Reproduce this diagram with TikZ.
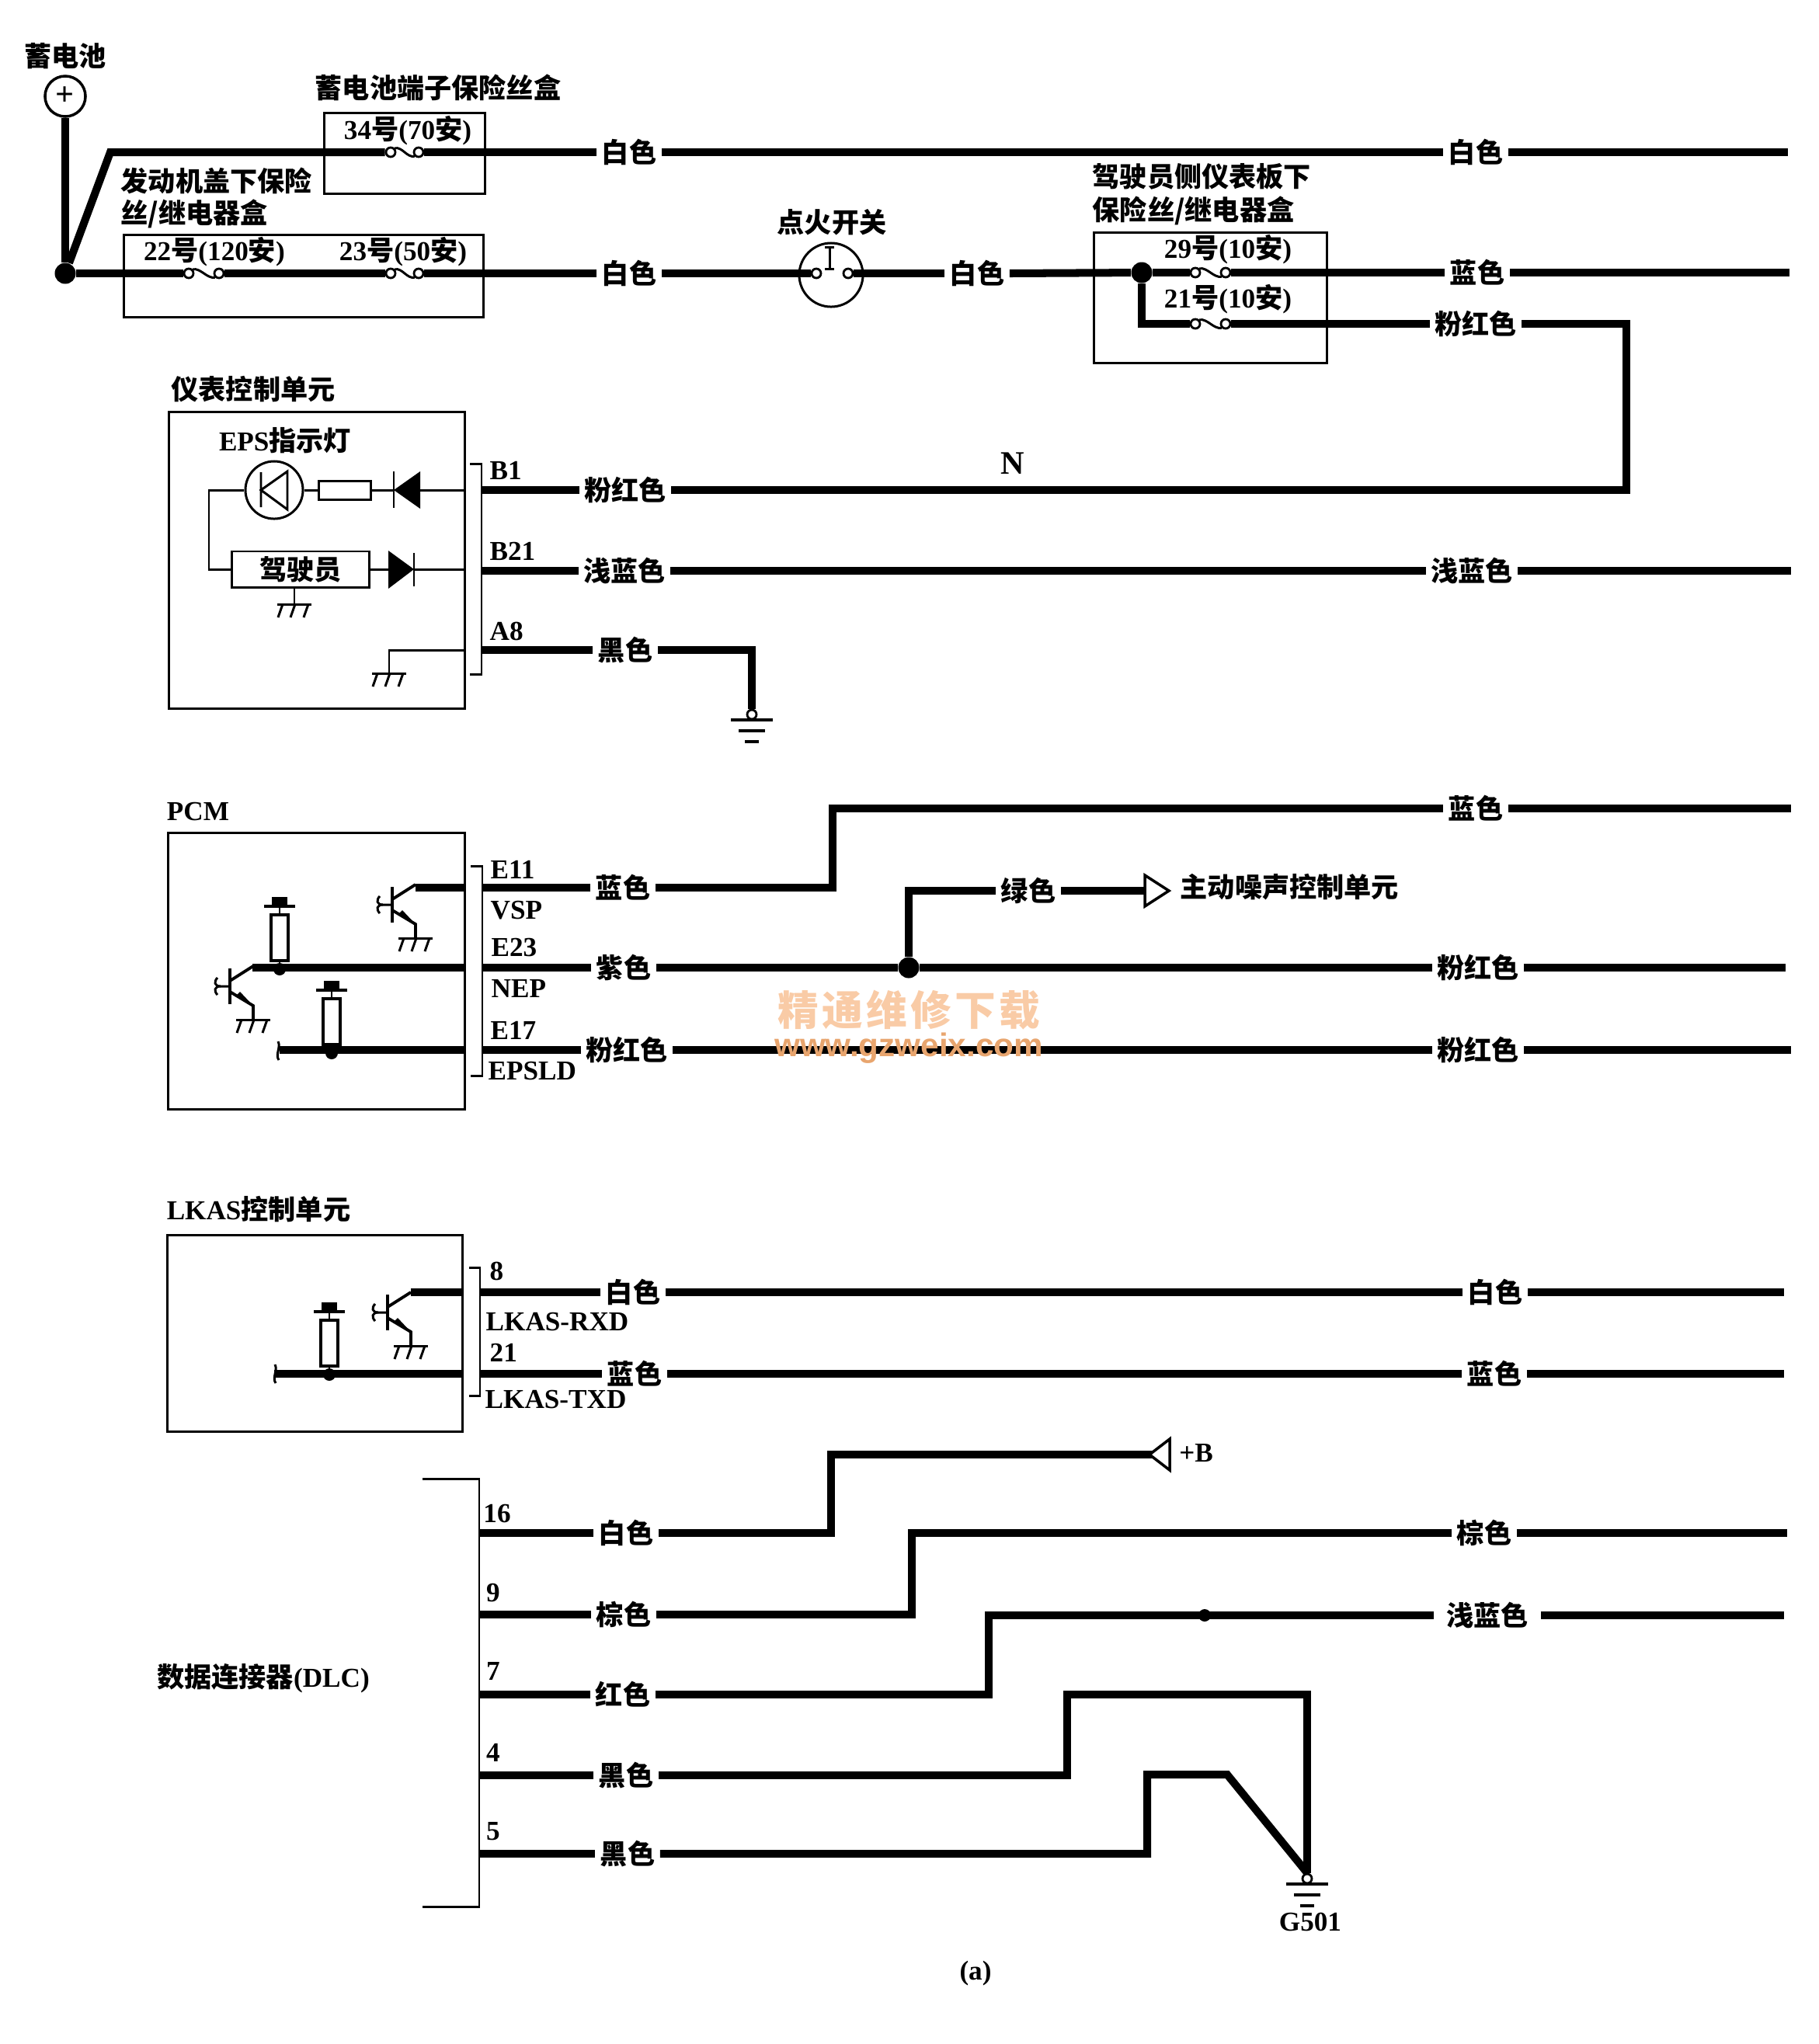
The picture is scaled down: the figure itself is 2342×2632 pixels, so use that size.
\documentclass[tikz,border=0pt]{standalone}
\usepackage{fontspec}
\setmainfont{Liberation Serif}
\newfontfamily\cjk{Noto Sans CJK SC}
\newfontfamily\wmfont{Liberation Sans}
\usetikzlibrary{arrows.meta,calc,positioning}
\definecolor{wmlight}{HTML}{F9CBA6}
\definecolor{wmdark}{HTML}{E8A56E}

\newcommand{\hz}[1]{{\cjk\bfseries #1}}
% fuse : name, left x, right x, y
\newcommand{\fusesym}[4]{
	\node[term] (#1-l) at (#2,#4) {};
	\node[term] (#1-r) at (#3,#4) {};
	\draw[thinw] (#1-l.north east) .. controls +(10,-2) and +(-10,2) .. (#1-r.south west);
}
% three slanted strokes, x y of the stem foot
\newcommand{\chassisgnd}[2]{
	\draw[thinw] (#1-22,#2) -- (#1+22,#2);
	\foreach \sx in {-15,1,18} {
		\draw[thinw] (#1+\sx,#2) -- (#1+\sx-6,#2+17);
	}
}
% earth symbol : name, x, y
\newcommand{\earthgnd}[3]{
	\node[term] (#1) at (#2,#3) {};
	\draw[gndbar] (#2-27,#3+7) -- (#2+27,#3+7);
	\draw[gndbar] (#2-17,#3+21) -- (#2+17,#3+21);
	\draw[gndbar] (#2-9,#3+35) -- (#2+9,#3+35);
}
% transistor : x of bar, y of bar centre
\newcommand{\npnsym}[2]{
	\begin{scope}[shift={(#1,#2)}]
		\draw[line width=1.1pt] (0,-23) -- (0,23);
		\draw[line width=1.1pt] (0,-7) -- (30,-26);
		\draw[line width=1.1pt] (0,7) -- (30,25) -- (30,43);
		\fill (8,12) -- (30,25) -- (13,7) -- cycle;
		\draw[thinw] (0,0) -- (-12,0) .. controls (-20,0) and (-21,-6) .. (-16,-11);
		\draw[thinw] (-12,0) .. controls (-20,0) and (-21,6) .. (-16,11);
	\end{scope}
	\chassisgnd{#1+30}{#2+43}
}
% pull-up : x, y of top of the block
\newcommand{\pullup}[2]{
	\fill (#1-10,#2) rectangle (#1+10,#2+12);
	\draw[line width=1.2pt] (#1-20,#2+12) -- (#1+20,#2+12);
	\draw[thinw] (#1,#2+12) -- (#1,#2+23);
	\draw[line width=1pt,fill=white] (#1-11,#2+23) rectangle (#1+11,#2+82);
	\draw[thinw] (#1,#2+82) -- (#1,#2+93);
	\fill (#1,#2+93) circle (8);
}
% bracket of pins : x, x of ticks, top y, bottom y
\newcommand{\pinbracket}[4]{
	\draw[thinw] (#2,#3) -- (#1,#3) -- (#1,#4) -- (#2,#4);
}

\begin{document}
\begin{tikzpicture}[
		x=0.01cm, y=-0.01cm,
		wire/.style={line width=2.85pt},
		thinw/.style={line width=0.85pt},
		gndbar/.style={line width=1pt},
		collab/.style={inner xsep=0.06cm, inner ysep=0pt, text height=8.8pt, text depth=1.2pt, font=\cjk\bfseries},
		txt/.style={inner sep=0pt, font=\bfseries},
		term/.style={circle, draw, fill=white, line width=0.8pt, inner sep=0pt, minimum size=0.12cm},
		dot/.style={circle, fill=black, inner sep=0pt, minimum size=0.27cm},
		unitbox/.style={draw, thinw, anchor=north west, inner sep=0pt}
		]
	\useasboundingbox (0,0) rectangle (2342,2632);

	% --- battery and fuse boxes ---
	\node[txt] (tBatt) at (84,72) {\hz{蓄电池}};
	\node[circle, draw, line width=1pt, minimum size=0.52cm, inner sep=0pt, font=\large\bfseries] (batt) at (84,124) {+};
	\node[txt] (tTerm) at (564,113) {\hz{蓄电池端子保险丝盒}};
	\node[unitbox, minimum width=2.07cm, minimum height=1.04cm] (boxA) at (416,144) {};
	\node[txt] (t34) at (525,168) {34\hz{号}(70\hz{安})};
	\node[txt, anchor=west] (tHoodA) at (155,233) {\hz{发动机盖下保险}};
	\node[txt, anchor=west] (tHoodB) at (155,275) {\hz{丝/继电器盒}};
	\node[unitbox, minimum width=4.63cm, minimum height=1.06cm] (boxB) at (158,301) {};
	\node[txt] (t22) at (276,324) {22\hz{号}(120\hz{安})};
	\node[txt] (t23) at (519,324) {23\hz{号}(50\hz{安})};
	\node[txt] (tIgn) at (1071,286) {\hz{点火开关}};
	\node[circle, draw, thinw, minimum size=0.82cm, inner sep=0pt] (ign) at (1070,354) {};
	\draw[thinw] (1062,318) -- (1074,318) (1068,318) -- (1068,346) (1062,346) -- (1074,346);
	\node[txt, anchor=west] (tDashA) at (1406,227) {\hz{驾驶员侧仪表板下}};
	\node[txt, anchor=west] (tDashB) at (1406,271) {\hz{保险丝/继电器盒}};
	\node[unitbox, minimum width=3.0cm, minimum height=1.68cm] (boxC) at (1407,298) {};
	\node[txt] (t29) at (1581,321) {29\hz{号}(10\hz{安})};
	\node[txt] (t21) at (1581,385) {21\hz{号}(10\hz{安})};

	\fusesym{fA}{503}{539}{196}
	\fusesym{fB}{243}{282}{352}
	\fusesym{fC}{503}{539}{352}
	\fusesym{fD}{1539}{1578}{351}
	\fusesym{fE}{1539}{1578}{417}
	\node[term] (swl) at (1051,352) {};
	\node[term] (swr) at (1092,352) {};

	\node[collab] (lwA) at (810,196) {白色};
	\node[collab] (lwB) at (1900,196) {白色};
	\node[collab] (lwC) at (810,352) {白色};
	\node[collab] (lwD) at (1258,352) {白色};
	\node[collab] (lbA) at (1902,351) {蓝色};
	\node[collab] (lpA) at (1900,417) {粉红色};

	\node[dot] (junA) at (84,352) {};
	\node[dot] (junC) at (1470,351) {};
	\coordinate (bendA) at (142,196);
	\coordinate (bendC) at (1470,417);
	\coordinate (endA) at (2302,196);
	\coordinate (endB) at (2304,351);
	\coordinate (bendP) at (2094,417);
	\coordinate (bendQ) at (2094,631);

	\draw[wire] (batt) -- (junA);
	\draw[wire] (junA) -- (bendA) -- (fA-l.west);
	\draw[wire] (fA-r.east) -- (lwA.west);
	\draw[wire] (lwA.east) -- (lwB.west);
	\draw[wire] (lwB.east) -- (endA);
	\draw[wire] (junA) -- (fB-l.west);
	\draw[wire] (fB-r.east) -- (fC-l.west);
	\draw[wire] (fC-r.east) -- (lwC.west);
	\draw[wire] (lwC.east) -- (swl.west);
	\draw[wire] (swr.east) -- (lwD.west);
	\draw[wire] (lwD.east) -- (junC);
	\draw[wire] (junC) -- (fD-l.west);
	\draw[wire] (fD-r.east) -- (lbA.west);
	\draw[wire] (lbA.east) -- (endB);
	\draw[wire] (junC) -- (bendC) -- (fE-l.west);
	\draw[wire] (fE-r.east) -- (lpA.west);

	% --- instrument control unit ---
	\node[txt] (tMeter) at (326,501) {\hz{仪表控制单元}};
	\node[unitbox, minimum width=3.81cm, minimum height=3.82cm] (boxM) at (216,529) {};
	\node[txt] (tEps) at (367,567) {EPS\hz{指示灯}};
	\node[circle, draw, thinw, minimum size=0.74cm, inner sep=0pt] (lamp) at (353,631) {};
	\draw[thinw] (336,608) -- (336,653) (370,607) -- (336,631) -- (370,656) -- cycle;
	\node[draw, thinw, minimum width=0.66cm, minimum height=0.24cm, inner sep=0pt] (resM) at (444,631) {};
	\coordinate (diaL) at (507,631);
	\coordinate (diaR) at (541,631);
	\fill (diaL) -- (541,607) -- (541,655) -- cycle;
	\draw[thinw] (507,607) -- (507,654);
	\node[draw, thinw, minimum width=1.76cm, minimum height=0.46cm, inner sep=0pt] (drv) at (387,733) {\hz{驾驶员}};
	\coordinate (dibL) at (500,733);
	\coordinate (dibR) at (533,733);
	\fill (500,709) -- (dibR) -- (500,758) -- cycle;
	\draw[thinw] (533,712) -- (533,755);
	\coordinate (bendM) at (269,631);
	\coordinate (bendN) at (269,733);
	\draw[thinw] (boxM.east |- diaR) -- (diaR);
	\draw[thinw] (diaL) -- (resM);
	\draw[thinw] (resM) -- (lamp);
	\draw[thinw] (lamp) -- (bendM) -- (bendN) -- (drv);
	\draw[thinw] (drv) -- (dibL);
	\draw[thinw] (dibR) -- (boxM.east |- dibR);
	\coordinate (stemA) at (379,778);
	\draw[thinw] (drv.south -| stemA) -- (stemA);
	\chassisgnd{379}{778}
	\coordinate (stemB) at (501,837);
	\coordinate (stemC) at (501,867);
	\draw[thinw] (boxM.east |- stemB) -- (stemB) -- (stemC);
	\chassisgnd{501}{867}

	\pinbracket{620}{605}{597}{868}
	\node[txt, anchor=west] (pB1) at (630,606) {B1};
	\node[txt, anchor=west] (pB21) at (630,710) {B21};
	\node[txt, anchor=west] (pA8) at (630,813) {A8};
	\node[txt, font=\bfseries\fontsize{12}{14}\selectfont] (tN) at (1304,597) {N};

	\coordinate (pinB1) at (621,631);
	\coordinate (pinB21) at (621,735);
	\coordinate (pinA8) at (621,837);
	\node[collab] (lpB) at (805,631) {粉红色};
	\node[collab] (lsA) at (804,735) {浅蓝色};
	\node[collab] (lsB) at (1895,735) {浅蓝色};
	\node[collab] (lkA) at (805,837) {黑色};
	\coordinate (endS) at (2306,735);
	\coordinate (bendG) at (968,837);
	\earthgnd{gndA}{968}{920}

	\draw[wire] (pinB1) -- (lpB.west);
	\draw[wire] (lpB.east) -- (bendQ) -- (bendP) -- (lpA.east);
	\draw[wire] (pinB21) -- (lsA.west);
	\draw[wire] (lsA.east) -- (lsB.west);
	\draw[wire] (lsB.east) -- (endS);
	\draw[wire] (pinA8) -- (lkA.west);
	\draw[wire] (lkA.east) -- (bendG) -- (gndA.north);

	% --- PCM ---
	\node[txt] (tPcm) at (255,1045) {PCM};
	\node[unitbox, minimum width=3.82cm, minimum height=3.56cm] (boxP) at (215,1071) {};
	\npnsym{505}{1165}
	\npnsym{296}{1270}
	\pullup{360}{1155}
	\pullup{427}{1263}
	\pinbracket{621}{606}{1115}{1385}
	\node[txt, anchor=west] (pE11) at (631,1120) {E11};
	\node[txt, anchor=west] (pVsp) at (631,1172) {VSP};
	\node[txt, anchor=west] (pE23) at (632,1220) {E23};
	\node[txt, anchor=west] (pNep) at (632,1273) {NEP};
	\node[txt, anchor=west] (pE17) at (631,1327) {E17};
	\node[txt, anchor=west] (pEps) at (628,1379) {EPSLD};

	\coordinate (colA) at (535,1143);
	\coordinate (colB) at (325,1246);
	\coordinate (inE17) at (360,1352);
	\coordinate (pinE11) at (622,1143);
	\coordinate (pinE23) at (622,1246);
	\coordinate (pinE17) at (622,1352);
	\draw[thinw] (358,1341) .. controls (362,1348) and (354,1358) .. (359,1365);
	\draw[wire] (colA) -- (boxP.east |- colA);
	\draw[wire] (colB) -- (boxP.east |- colB);
	\draw[wire] (inE17) -- (boxP.east |- inE17);

	\node[collab] (lbB) at (802,1143) {蓝色};
	\node[collab] (lbC) at (1900,1041) {蓝色};
	\node[collab] (lzA) at (803,1246) {紫色};
	\node[collab] (lpC) at (1903,1246) {粉红色};
	\node[collab] (lgA) at (1324,1147) {绿色};
	\node[collab] (lpD) at (807,1352) {粉红色};
	\node[collab] (lpE) at (1903,1352) {粉红色};
	\node[txt, anchor=west] (tNoise) at (1519,1142) {\hz{主动噪声控制单元}};
	\node[dot] (junP) at (1170,1246) {};
	\coordinate (bendE) at (1072,1143);
	\coordinate (bendF) at (1072,1041);
	\coordinate (bendH) at (1170,1147);
	\coordinate (arrG) at (1474,1147);
	\coordinate (endC) at (2306,1041);
	\coordinate (endD) at (2299,1246);
	\coordinate (endE) at (2306,1352);

	\draw[wire] (pinE11) -- (lbB.west);
	\draw[wire] (lbB.east) -- (bendE) -- (bendF) -- (lbC.west);
	\draw[wire] (lbC.east) -- (endC);
	\draw[wire] (pinE23) -- (lzA.west);
	\draw[wire] (lzA.east) -- (junP);
	\draw[wire] (junP) -- (lpC.west);
	\draw[wire] (lpC.east) -- (endD);
	\draw[wire] (junP) -- (bendH) -- (lgA.west);
	\draw[wire] (lgA.east) -- (arrG);
	\draw[gndbar, fill=white] (arrG) ++(0,-20) -- ++(31,20) -- ++(-31,20) -- cycle;
	\draw[wire] (pinE17) -- (lpD.west);
	\draw[wire] (lpD.east) -- (lpE.west);
	\draw[wire] (lpE.east) -- (endE);

	% --- LKAS control unit ---
	\node[txt] (tLkas) at (333,1557) {LKAS\hz{控制单元}};
	\node[unitbox, minimum width=3.80cm, minimum height=2.53cm] (boxL) at (214,1589) {};
	\npnsym{499}{1690}
	\pullup{424}{1677}
	\pinbracket{618}{604}{1632}{1797}
	\node[txt, anchor=west] (p8) at (630,1637) {8};
	\node[txt, anchor=west] (pRxd) at (625,1702) {LKAS-RXD};
	\node[txt, anchor=west] (p21) at (630,1742) {21};
	\node[txt, anchor=west] (pTxd) at (624,1802) {LKAS-TXD};

	\coordinate (colC) at (529,1664);
	\coordinate (inTx) at (353,1769);
	\coordinate (pinRx) at (619,1664);
	\coordinate (pinTx) at (619,1769);
	\draw[thinw] (354,1757) .. controls (358,1764) and (350,1774) .. (355,1781);
	\draw[wire] (colC) -- (boxL.east |- colC);
	\draw[wire] (inTx) -- (boxL.east |- inTx);

	\node[collab] (lwE) at (815,1664) {白色};
	\node[collab] (lwF) at (1925,1664) {白色};
	\node[collab] (lbD) at (817,1769) {蓝色};
	\node[collab] (lbE) at (1924,1769) {蓝色};
	\coordinate (endF) at (2297,1664);
	\coordinate (endG) at (2297,1769);

	\draw[wire] (pinRx) -- (lwE.west);
	\draw[wire] (lwE.east) -- (lwF.west);
	\draw[wire] (lwF.east) -- (endF);
	\draw[wire] (pinTx) -- (lbD.west);
	\draw[wire] (lbD.east) -- (lbE.west);
	\draw[wire] (lbE.east) -- (endG);

	% --- data connector ---
	\pinbracket{617}{544}{1904}{2455}
	\node[txt] (tDlc) at (339,2161) {\hz{数据连接器}(DLC)};
	\node[txt] (p16) at (640,1949) {16};
	\node[txt] (p9) at (635,2051) {9};
	\node[txt] (p7) at (635,2152) {7};
	\node[txt] (p4) at (635,2257) {4};
	\node[txt] (p5) at (635,2358) {5};

	\coordinate (pin16) at (617,1974);
	\coordinate (pin9) at (617,2079);
	\coordinate (pin7) at (617,2182);
	\coordinate (pin4) at (617,2286);
	\coordinate (pin5) at (617,2387);
	\node[collab] (lwG) at (806,1974) {白色};
	\node[collab] (lnA) at (803,2079) {棕色};
	\node[collab] (lnB) at (1911,1974) {棕色};
	\node[collab] (lrA) at (802,2182) {红色};
	\node[collab, inner xsep=0.16cm] (lsC) at (1915,2080) {浅蓝色};
	\node[collab] (lkB) at (806,2286) {黑色};
	\node[collab] (lkC) at (808,2387) {黑色};
	\node[txt] (tPlus) at (1540,1871) {+B};
	\node[txt] (tG501) at (1687,2475) {G501};
	\node[txt] (tCap) at (1256,2541) {(a)};

	\coordinate (bend16a) at (1070,1974);
	\coordinate (bend16b) at (1070,1873);
	\coordinate (arrB) at (1506,1873);
	\coordinate (bend9a) at (1174,2079);
	\coordinate (bend9b) at (1174,1974);
	\coordinate (end9) at (2301,1974);
	\coordinate (bend7a) at (1273,2182);
	\coordinate (bend7b) at (1273,2080);
	\coordinate (end7) at (2297,2080);
	\coordinate (bend4a) at (1374,2286);
	\coordinate (bend4b) at (1374,2182);
	\coordinate (bend4c) at (1683,2182);
	\coordinate (bend5a) at (1477,2387);
	\coordinate (bend5b) at (1477,2285);
	\coordinate (bend5c) at (1580,2285);
	\earthgnd{gndB}{1683}{2419}

	\draw[wire] (pin16) -- (lwG.west);
	\draw[wire] (lwG.east) -- (bend16a) -- (bend16b) -- (arrB);
	\draw[gndbar, fill=white] (arrB) ++(0,-20) -- ++(-26,20) -- ++(26,20) -- cycle;
	\draw[wire] (pin9) -- (lnA.west);
	\draw[wire] (lnA.east) -- (bend9a) -- (bend9b) -- (lnB.west);
	\draw[wire] (lnB.east) -- (end9);
	\draw[wire] (pin7) -- (lrA.west);
	\draw[wire] (lrA.east) -- (bend7a) -- (bend7b) -- (lsC.west);
	\draw[wire] (lsC.east) -- (end7);
	\node[dot, minimum size=0.16cm] (junD) at (1551,2080) {};
	\draw[wire] (pin4) -- (lkB.west);
	\draw[wire] (lkB.east) -- (bend4a) -- (bend4b) -- (bend4c) -- (gndB.north);
	\draw[wire] (pin5) -- (lkC.west);
	\draw[wire] (lkC.east) -- (bend5a) -- (bend5b) -- (bend5c) -- (gndB.north);

	% --- watermark ---
	\node[txt, text=wmlight, font=\cjk\bfseries\fontsize{15}{17}\selectfont] (wmA) at (1170,1301) {精\hspace{1.2pt}通\hspace{1.2pt}维\hspace{1.2pt}修\hspace{1.2pt}下\hspace{1.2pt}载};
	\node[txt, text=wmdark, font=\wmfont\bfseries\fontsize{12}{14}\selectfont] (wmB) at (1170,1350) {www.gzweix.com};
\end{tikzpicture}
\end{document}
